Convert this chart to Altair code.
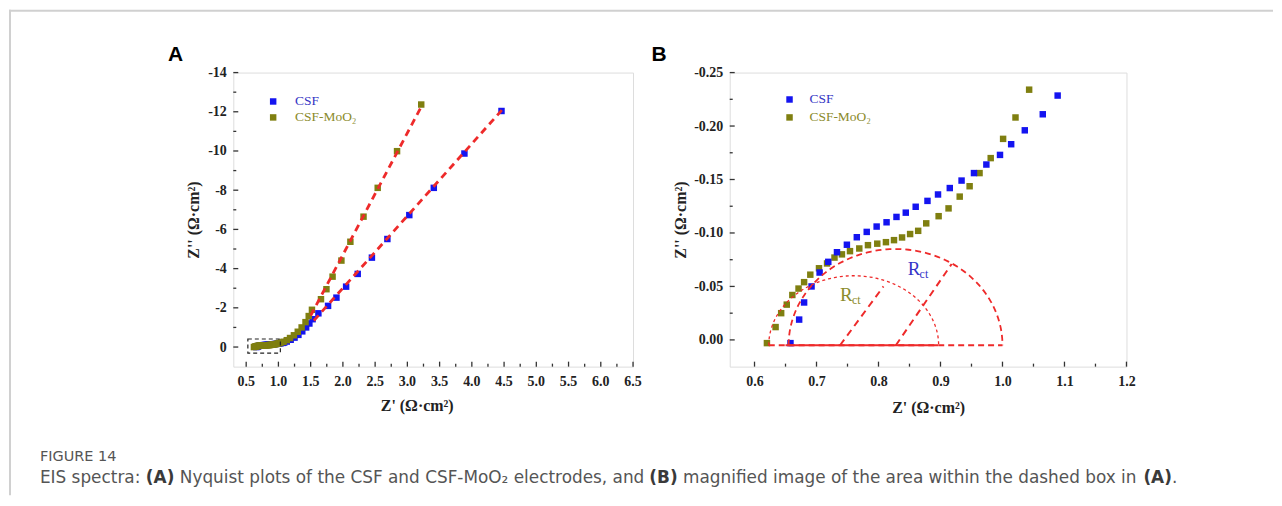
import altair as alt
import pandas as pd
import numpy as np

# ---------------- data ----------------
# Panel B (magnified low-Z region)
B_CSF_X = [0.658, 0.672, 0.680, 0.692, 0.705, 0.719, 0.733, 0.749, 0.765, 0.781, 0.797, 0.813, 0.829,
           0.844, 0.860, 0.879, 0.896, 0.915, 0.934, 0.954, 0.974, 0.996, 1.014, 1.036, 1.065, 1.089]
B_CSF_Y = [0.003, -0.019, -0.035, -0.050, -0.063, -0.073, -0.082, -0.089, -0.096, -0.101, -0.106, -0.110, -0.115,
           -0.119, -0.1245, -0.130, -0.136, -0.142, -0.149, -0.156, -0.164, -0.173, -0.183, -0.196, -0.211, -0.2285]
B_MOO_X = [0.620, 0.634, 0.643, 0.652, 0.661, 0.671, 0.680, 0.690, 0.704, 0.717, 0.729, 0.741, 0.754, 0.769,
           0.783, 0.798, 0.812, 0.825, 0.838, 0.851, 0.864, 0.877, 0.897, 0.913, 0.931, 0.947, 0.963, 0.981,
           1.001, 1.021, 1.043]
B_MOO_Y = [0.003, -0.012, -0.025, -0.033, -0.042, -0.048, -0.054, -0.061, -0.067, -0.0715, -0.077, -0.080,
           -0.083, -0.0855, -0.0886, -0.090, -0.0914, -0.0933, -0.0958, -0.099, -0.102, -0.109, -0.1157, -0.123,
           -0.134, -0.1437, -0.156, -0.170, -0.188, -0.208, -0.234]

# Panel A extra points beyond the magnified region
A_CSF_X = [1.13, 1.19, 1.25, 1.31, 1.37, 1.43, 1.48, 1.53, 1.62, 1.77, 1.90, 2.05, 2.23, 2.45, 2.69, 3.03,
           3.41, 3.885, 4.46]
A_CSF_Y = [-0.28, -0.37, -0.48, -0.62, -0.80, -1.00, -1.20, -1.42, -1.72, -2.10, -2.52, -3.08, -3.73, -4.56,
           -5.51, -6.73, -8.12, -9.87, -12.04]
A_MOO_X = [1.08, 1.13, 1.18, 1.24, 1.30, 1.36, 1.42, 1.47, 1.52, 1.66, 1.745, 1.84, 1.977, 2.116, 2.32, 2.54,
           2.84, 3.215]
A_MOO_Y = [-0.27, -0.35, -0.46, -0.60, -0.78, -1.00, -1.27, -1.58, -1.90, -2.44, -2.95, -3.59, -4.41, -5.37,
           -6.65, -8.12, -9.99, -12.37]

# linear fit lines in A
FIT_ID = ["CSF", "CSF", "CSF-MoO2", "CSF-MoO2"]
FIT_X = [1.55, 4.47, 1.50, 3.23]
FIT_Y = [-1.35, -12.10, -1.60, -12.35]

# dashed box in A
BOX = dict(x1=0.526, x2=1.03, y1=-0.41, y2=0.31)

# equivalent-circuit guides in B
ARC_SMALL = dict(cx=0.760, cy=0.005, rx=0.137, ry=0.065)
ARC_BIG = dict(cx=0.8275, cy=0.005, rx=0.1725, ry=0.090)
RAD_ID = ["r1", "r1", "r2", "r2"]
RAD_X = [0.738, 0.808, 0.828, 0.918]
RAD_Y = [0.005, -0.050, 0.005, -0.071]
BASE_SOLID_X = [0.650, 0.896]
BASE_DASH_X = [0.623, 1.000]
BASE_Y = 0.005

# tick positions and labels
A_X_MAJOR = [0.5, 1.0, 1.5, 2.0, 2.5, 3.0, 3.5, 4.0, 4.5, 5.0, 5.5, 6.0, 6.5]
A_X_LABELS = ["0.5", "1.0", "1.5", "2.0", "2.5", "3.0", "3.5", "4.0", "4.5", "5.0", "5.5", "6.0", "6.5"]
A_X_MINOR = [0.75, 1.25, 1.75, 2.25, 2.75, 3.25, 3.75, 4.25, 4.75, 5.25, 5.75, 6.25]
A_Y_MAJOR = [-14, -12, -10, -8, -6, -4, -2, 0]
A_Y_MINOR = [-13, -11, -9, -7, -5, -3, -1]
B_X_MAJOR = [0.6, 0.7, 0.8, 0.9, 1.0, 1.1, 1.2]
B_X_MINOR = [0.65, 0.75, 0.85, 0.95, 1.05, 1.15]
B_Y_MAJOR = [-0.25, -0.20, -0.15, -0.10, -0.05, 0.00]
B_Y_MINOR = [-0.225, -0.175, -0.125, -0.075, -0.025]

# caption (text, bold, followed by a space)
CAPTION_HEAD = "FIGURE 14"
CAPTION_SEGS = [("EIS spectra:", False, True), ("(A)", True, True),
                ("Nyquist plots of the CSF and CSF-MoO\u2082 electrodes, and", False, False), ("(B)", True, True),
                ("magnified image of the area within the dashed box in", False, True), ("(A)", True, False),
                (".", False, False)]

SERIES = ["CSF", "CSF-MoO2"]
BLUE = "#1414f0"
OLIVE = "#7f7f10"
RED = "#ee2a2a"
AXC = "#333333"
SERIF = "Liberation Serif"

WA, WB, H = 401, 398, 295

def pts(xs, ys, name):
    return pd.DataFrame({"x": xs, "y": ys, "s": name})

dfA = pd.concat([pts(B_CSF_X + A_CSF_X, B_CSF_Y + A_CSF_Y, "CSF"),
                 pts(B_MOO_X + A_MOO_X, B_MOO_Y + A_MOO_Y, "CSF-MoO2")], ignore_index=True)
dfB = pd.concat([pts(B_MOO_X, B_MOO_Y, "CSF-MoO2"),
                 pts(B_CSF_X, B_CSF_Y, "CSF")], ignore_index=True)

color = alt.Color("s:N", scale=alt.Scale(domain=SERIES, range=[BLUE, OLIVE]), legend=None)
one = pd.DataFrame({"k": [0]})

def axis_x(vals, fmt, title_x=None, **kw):
    d = dict(values=vals, format=fmt, labelExpr="replace(datum.label, '\u2212', '-')",
             ticks=False, domain=False, grid=False, labelFont=SERIF, labelFontWeight="bold",
             labelFontSize=14, labelColor="#222", labelPadding=8, labelOverlap=False, labelFlush=False,
             titleFont=SERIF, titleFontWeight="bold", titleFontSize=16, titleColor="#222", titlePadding=11)
    if title_x is not None:
        d["titleX"] = title_x
    d.update(kw)
    return alt.Axis(**d)

def axis_y(vals, fmt, **kw):
    d = dict(values=vals, format=fmt, labelExpr="replace(datum.label, '\u2212', '-')",
             ticks=False, domain=False, grid=False, labelFont=SERIF, labelFontWeight="bold",
             labelFontSize=14, labelColor="#222", labelPadding=7, labelOverlap=False, labelFlush=False,
             titleFont=SERIF, titleFontWeight="bold", titleFontSize=16, titleColor="#222", titlePadding=6)
    d.update(kw)
    return alt.Axis(**d)

def tick_layers(xmaj, xmin, ymaj, ymin):
    out = []
    for vals, ln in ((xmaj, 5), (xmin, 3)):
        out.append(alt.Chart(pd.DataFrame({"v": vals})).mark_rule(color=AXC, strokeWidth=1.3).encode(
            x="v:Q", y=alt.value(H), y2=alt.value(H - ln)))
    for vals, ln in ((ymaj, 5), (ymin, 3)):
        out.append(alt.Chart(pd.DataFrame({"v": vals})).mark_rule(color=AXC, strokeWidth=1.3).encode(
            y="v:Q", x=alt.value(0), x2=alt.value(ln)))
    return out

def txt(text, x, y, size=13, font=SERIF, color="#222", weight="normal", align="left", baseline="middle"):
    return alt.Chart(one).mark_text(text=text, font=font, fontSize=size, color=color, fontWeight=weight,
                                    align=align, baseline=baseline).encode(x=alt.value(x), y=alt.value(y))

def legend_layers(mx, tx, y1, y2):
    return [
        alt.Chart(one).mark_square(size=42, color=BLUE, opacity=1).encode(x=alt.value(mx), y=alt.value(y1)),
        alt.Chart(one).mark_square(size=42, color=OLIVE, opacity=1).encode(x=alt.value(mx), y=alt.value(y2)),
        txt("CSF", tx, y1, size=13.5, color="#3434c4"),
        txt("CSF-MoO\u2082", tx, y2, size=13.5, color="#8a8a2a"),
    ]

# ---- caption layout: approximate DejaVu Sans advance widths (units of 1/2048 em) ----
_W = {" ": 651, "(": 799, ")": 799, ",": 651, "-": 739, ".": 651, ":": 690, "\u2082": 840,
      "A": 1401, "B": 1405, "C": 1430, "D": 1577, "E": 1294, "F": 1178, "G": 1587, "I": 604, "M": 1767,
      "N": 1532, "O": 1612, "R": 1423, "S": 1300, "U": 1499,
      "a": 1255, "b": 1300, "c": 1126, "d": 1300, "e": 1260, "f": 721, "g": 1300, "h": 1298, "i": 569,
      "j": 569, "k": 1186, "l": 569, "m": 1995, "n": 1298, "o": 1253, "p": 1300, "q": 1300, "r": 842,
      "s": 1067, "t": 803, "u": 1298, "v": 1212, "w": 1675, "x": 1212, "y": 1212, "z": 1075}
_WB = {"(": 938, ")": 938, "A": 1585, "B": 1560}

def units(s, bold):
    tot = 0
    for ch in s:
        if bold and ch in _WB:
            tot += _WB[ch]
        elif ch.isdigit():
            tot += 1303
        else:
            tot += _W.get(ch, 1200)
    return tot

CAP_FONT = "DejaVu Sans"
CAP_LEFT, CAP_RIGHT = 40, 1181
total_units = sum(units(s, b) + (651 if sp else 0) for s, b, sp in CAPTION_SEGS)
cap_size = min(17.0, (CAP_RIGHT - CAP_LEFT) * 2048.0 / total_units)

# ---------------- Panel A ----------------
OX, OY = 234, 72   # plot origin of panel A on the page (used only for page-level annotations)
xA = alt.X("x:Q", scale=alt.Scale(domain=[0.3, 6.5], nice=False, zero=False),
           axis=axis_x(A_X_MAJOR, ".1f", title_x=184, labels=False, titlePadding=31),
           title="Z' (\u03a9\u00b7cm\u00b2)")
yA = alt.Y("y:Q", scale=alt.Scale(domain=[-14, 1], nice=False, zero=False, reverse=True),
           axis=axis_y(A_Y_MAJOR, "d"), title="Z'' (\u03a9\u00b7cm\u00b2)")

pointsA = alt.Chart(dfA).mark_square(size=42, opacity=1).encode(x=xA, y=yA, color=color)
fitA = alt.Chart(pd.DataFrame({"id": FIT_ID, "x": FIT_X, "y": FIT_Y})).mark_line(
    color=RED, strokeWidth=2.8, strokeDash=[7, 5]).encode(x="x:Q", y="y:Q", detail="id:N")
boxA = alt.Chart(pd.DataFrame([BOX])).mark_rect(fillOpacity=0, stroke="#222", strokeWidth=1.2,
                                                 strokeDash=[4, 3]).encode(x="x1:Q", x2="x2:Q", y="y1:Q", y2="y2:Q")
xLabelsA = alt.Chart(pd.DataFrame({"v": A_X_MAJOR, "t": A_X_LABELS})).mark_text(
    font=SERIF, fontWeight="bold", fontSize=14, color="#222", baseline="top", align="center").encode(
    x="v:Q", y=alt.value(H + 8), text="t:N")

FRAME_C = "#d0d0d0"
frame = [
    alt.Chart(one).mark_rect(color=FRAME_C).encode(
        x=alt.value(9 - OX), x2=alt.value(11 - OX), y=alt.value(9 - OY), y2=alt.value(496 - OY)),
    alt.Chart(one).mark_rect(color=FRAME_C).encode(
        x=alt.value(9 - OX), x2=alt.value(1277 - OX), y=alt.value(9 - OY), y2=alt.value(11 - OY)),
]

caption = [txt(CAPTION_HEAD, CAP_LEFT - OX, 458 - OY, size=14.5, font=CAP_FONT, color="#555")]
cx = CAP_LEFT
for seg, bold, sp in CAPTION_SEGS:
    caption.append(txt(seg, cx - OX, 479 - OY, size=cap_size, font=CAP_FONT,
                       color="#3a3a3a" if bold else "#555", weight="bold" if bold else "normal"))
    cx += (units(seg, bold) + (651 if sp else 0)) * cap_size / 2048.0

panelA = alt.layer(
    *frame,
    pointsA, fitA, boxA, xLabelsA,
    *tick_layers(A_X_MAJOR, A_X_MINOR, A_Y_MAJOR, A_Y_MINOR),
    *legend_layers(40, 62, 29, 45),
    txt("A", -58, -18, size=21, font="Liberation Sans", color="#000", weight="bold", align="center"),
    *caption,
).properties(width=WA, height=H)

# ---------------- Panel B ----------------
xB = alt.X("x:Q", scale=alt.Scale(domain=[0.56, 1.2], nice=False, zero=False),
           axis=axis_x(B_X_MAJOR, ".1f"), title="Z' (\u03a9\u00b7cm\u00b2)")
yB = alt.Y("y:Q", scale=alt.Scale(domain=[-0.25, 0.025], nice=False, zero=False, reverse=True),
           axis=axis_y(B_Y_MAJOR, ".2f", titlePadding=5), title="Z'' (\u03a9\u00b7cm\u00b2)")

pointsB = alt.Chart(dfB).mark_square(size=42, opacity=1).encode(x=xB, y=yB, color=color)

def arc_df(a):
    t = np.linspace(np.pi, 0, 90)
    return pd.DataFrame({"x": a["cx"] + a["rx"] * np.cos(t), "y": a["cy"] - a["ry"] * np.sin(t),
                         "o": np.arange(90)})

arcSmall = alt.Chart(arc_df(ARC_SMALL)).mark_line(color=RED, strokeWidth=1.3, strokeDash=[3, 3]).encode(
    x="x:Q", y="y:Q", order="o:Q")
arcBig = alt.Chart(arc_df(ARC_BIG)).mark_line(color=RED, strokeWidth=1.8, strokeDash=[6, 4]).encode(
    x="x:Q", y="y:Q", order="o:Q")
radii = alt.Chart(pd.DataFrame({"id": RAD_ID, "x": RAD_X, "y": RAD_Y})).mark_line(
    color=RED, strokeWidth=2, strokeDash=[7, 5]).encode(x="x:Q", y="y:Q", detail="id:N")
baseDash = alt.Chart(pd.DataFrame({"x": BASE_DASH_X, "y": [BASE_Y, BASE_Y]})).mark_line(
    color=RED, strokeWidth=1.8, strokeDash=[6, 4]).encode(x="x:Q", y="y:Q")
baseSolid = alt.Chart(pd.DataFrame({"x": BASE_SOLID_X, "y": [BASE_Y, BASE_Y]})).mark_line(
    color=RED, strokeWidth=2).encode(x="x:Q", y="y:Q")

RCT_X = [0.738, 0.847]
RCT_Y = [-0.036, -0.061]
RCT_C = ["#8c8c2c", "#3535c8"]
rct = []
for rx_, ry_, rc_ in zip(RCT_X, RCT_Y, RCT_C):
    d = pd.DataFrame({"x": [rx_], "y": [ry_]})
    rct.append(alt.Chart(d).mark_text(text="R", font=SERIF, fontSize=19, color=rc_, align="left",
                                      baseline="alphabetic").encode(x="x:Q", y="y:Q"))
    rct.append(alt.Chart(d).mark_text(text="ct", font=SERIF, fontSize=12, color=rc_, align="left",
                                      baseline="alphabetic", dx=12, dy=3).encode(x="x:Q", y="y:Q"))

panelB = alt.layer(
    pointsB, arcSmall, arcBig, radii, baseDash, baseSolid, *rct,
    *tick_layers(B_X_MAJOR, B_X_MINOR, B_Y_MAJOR, B_Y_MINOR),
    *legend_layers(60, 80, 27, 45),
    txt("B", -71, -18, size=21, font="Liberation Sans", color="#000", weight="bold", align="center"),
).properties(width=WB, height=H)

chart = alt.hconcat(panelA, panelB, spacing=97, bounds="flush").resolve_scale(
    x="independent", y="independent", color="shared"
).properties(
    padding={"left": 0, "top": 0, "right": 0, "bottom": 0}
).configure_view(stroke=AXC, strokeWidth=1.5).configure_axis(
    labelOverlap=False, labelFlush=False
).configure(background="white")

chart.save("out.html", embed_options={"renderer": "svg", "actions": False})
